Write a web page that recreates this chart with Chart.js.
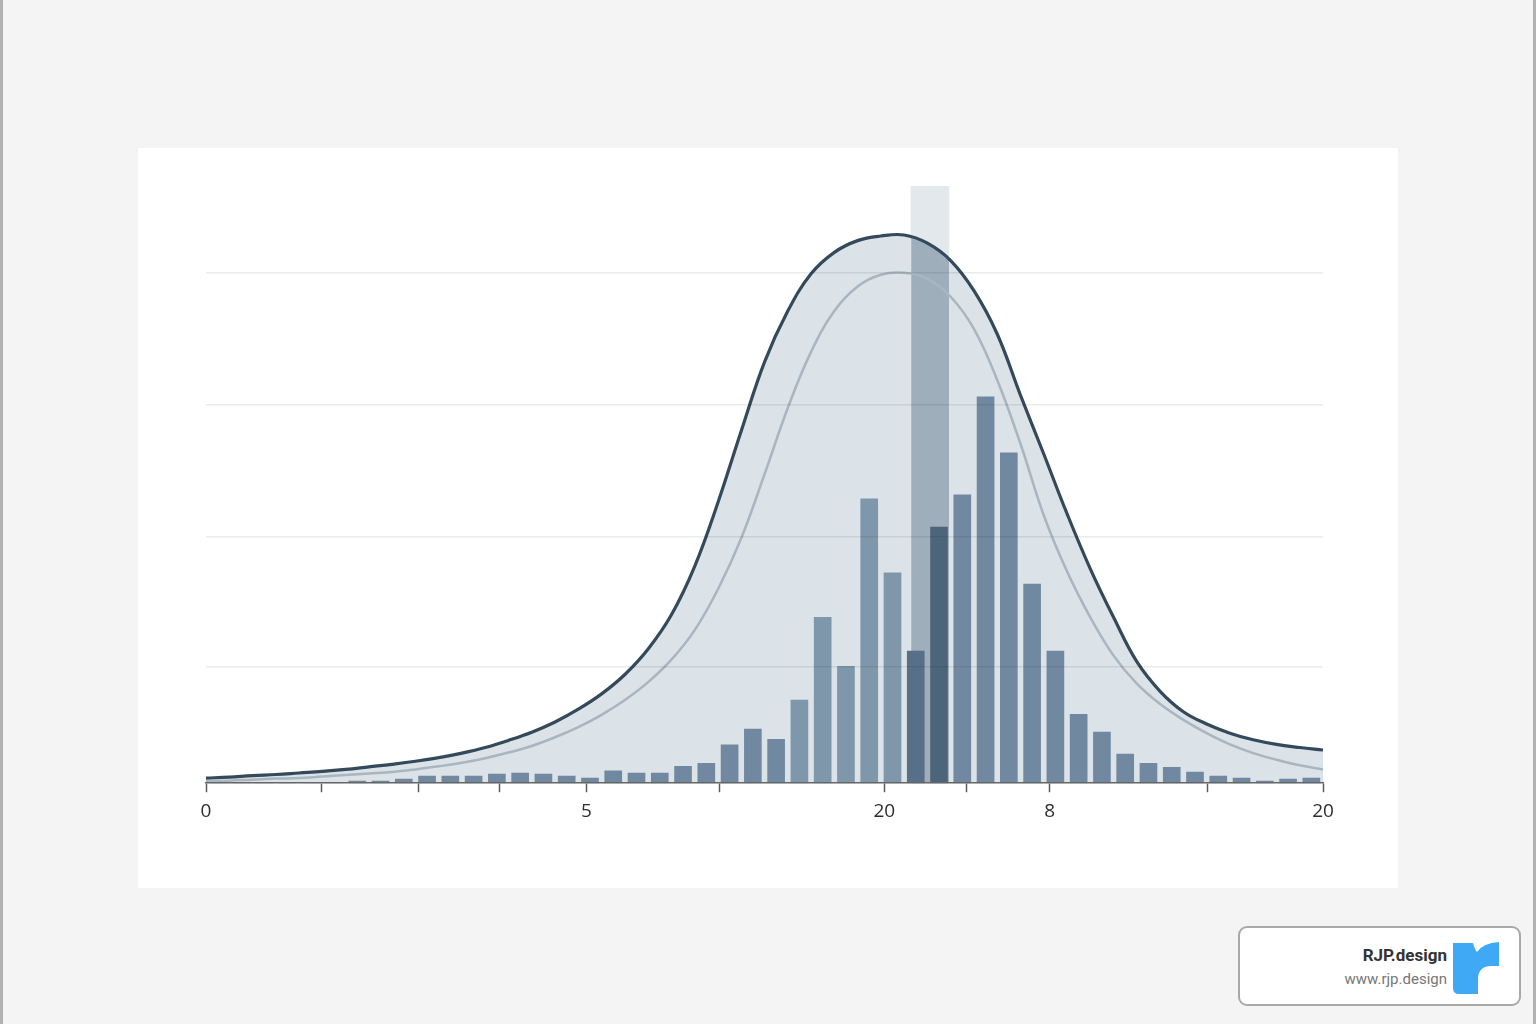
<!DOCTYPE html>
<html>
<head>
<meta charset="utf-8">
<title>Verteilung</title>
<script src="https://cdn.jsdelivr.net/npm/chart.js@4.4.1/dist/chart.umd.min.js"></script>
<style>
  html, body { margin: 0; padding: 0; }
  body { width: 1536px; height: 1024px; background: #f4f4f4; position: relative; overflow: hidden; }
  .edge { position: absolute; top: 0; width: 3px; height: 1024px; background: #b2b2b2; }
  #panel { position: absolute; left: 138px; top: 148px; width: 1260px; height: 740px; background: #fff; }
  #badge { position: absolute; left: 1238px; top: 926px; width: 279px; height: 76px; background: #fff;
           border: 2px solid #a9a9a9; border-radius: 9px; font-family: Roboto, "Noto Sans", sans-serif; }
  #badge .name { position: absolute; right: 72px; top: 17px; font-size: 17px; font-weight: bold; color: #333; }
  #badge .url { position: absolute; right: 72px; top: 42px; font-size: 15px; color: #777; }
  #badge svg { position: absolute; left: 213px; top: 14px; }
</style>
</head>
<body>
<div class="edge" style="left:0"></div>
<div class="edge" style="right:0"></div>
<div id="panel"><canvas id="grafico" width="1260" height="740"></canvas></div>
<div id="badge">
  <div class="name">RJP.design</div>
  <div class="url">www.rjp.design</div>
  <svg width="48" height="52" viewBox="0 0 48 52">
    <path d="M0 1 H20 Q22 8 24 10 Q30 1 46 0 V24 H38 Q26 24 25 36 V52 H6 Q0 52 0 46 Z" fill="#3fa9f5"/>
  </svg>
</div>

<script>
// Säulen: eine pro Klasse, 48 Klassen
const barValues = [0, 0, 0, 0, 0, 0, 0.4, 0.4, 0.8, 1.4, 1.4, 1.4,
                   1.8, 2.0, 1.8, 1.4, 1.0, 2.4, 2.0, 2.0, 3.3, 3.9, 7.5, 10.6,
                   8.6, 16.3, 32.5, 22.9, 55.7, 41.2, 25.9, 50.2, 56.5, 75.7, 64.7, 39.0,
                   25.9, 13.5, 10.0, 5.7, 3.9, 3.1, 2.2, 1.4, 1.0, 0.4, 0.8, 1.0];
const focusBars = [30, 31];

// Kurven, ein Wert pro Klassengrenze (0 ... 48)
const outerCurve = [1.0, 1.2, 1.5, 1.7, 2.0, 2.3, 2.7, 3.2, 3.7, 4.3, 5.0, 5.9,
                    7.0, 8.4, 10.0, 12.0, 14.5, 17.5, 21.3, 26.3, 33.0, 42.5, 55.0, 69.0,
                    82.5, 92.5, 99.8, 104.0, 106.3, 107.2, 107.4, 105.8, 102.4, 96.5, 88.0, 76.0,
                    64.5, 52.8, 42.0, 32.5, 23.8, 18.0, 14.0, 11.6, 9.8, 8.5, 7.6, 7.0, 6.5];
const innerCurve = [0.4, 0.5, 0.7, 0.9, 1.0, 1.3, 1.6, 1.9, 2.2, 2.7, 3.3, 4.0,
                    4.9, 6.0, 7.3, 9.0, 11.0, 13.4, 16.3, 19.8, 24.2, 30.0, 38.0, 48.0,
                    60.5, 73.5, 84.5, 92.5, 97.3, 99.6, 100.0, 98.8, 95.3, 89.0, 79.0, 66.5,
                    52.5, 41.5, 32.5, 25.0, 19.5, 15.5, 12.4, 9.8, 7.6, 5.9, 4.6, 3.5, 2.7];

// markierter Bereich
const bandCenter = 31.11;
const bandTop = 117;
const bandX = [30.3, 30.7, 31.1, 31.5, 31.93];
const bandY = [107.1, 106.4, 105.5, 104.3, 102.7];

// Achsen
const tickPositions = [0, 4.95, 9.15, 12.6, 16.35, 22.05, 29.15, 32.7, 36.25, 43.05, 48];
const tickLabels = ["0", "", "", "", "5", "", "20", "", "8", "", "20"];
const gridValues = [22.9, 48.2, 74.1, 100];

const xy = (xs, ys) => xs.map((x, i) => ({ x: x, y: ys[i] }));
const curvePoints = ys => ys.map((y, i) => ({ x: i, y: y }));

function barColor(c) {
    const i = c.dataIndex;
    if (i === focusBars[0]) return '#587087';
    if (i === focusBars[1]) return '#4d657b';
    if (i >= 25 && i < focusBars[0]) return '#7f97ab';
    return '#7189a0';
}

const ctx = document.getElementById('grafico').getContext('2d');
new Chart(ctx, {
    type: 'bar',
    data: {
        datasets: [
            {
                type: 'line', order: 0,
                data: curvePoints(outerCurve),
                borderColor: '#34495a', borderWidth: 3.2,
                pointRadius: 0, tension: 0.4, fill: false
            },
            {
                type: 'line', order: 1,
                data: curvePoints(innerCurve),
                borderColor: '#a9b5bf', borderWidth: 2.5,
                pointRadius: 0, tension: 0.4, fill: false
            },
            {
                order: 2,
                data: barValues.map((v, i) => ({ x: i + 0.5, y: v })),
                backgroundColor: barColor,
                barThickness: 17,
                grouped: false
            },
            {
                type: 'line', order: 3,
                data: xy(bandX, bandY),
                borderWidth: 0, pointRadius: 0, tension: 0.3,
                backgroundColor: '#9eaebb', fill: 'origin'
            },
            {
                order: 4,
                data: [{ x: bandCenter, y: [0, bandTop] }],
                backgroundColor: '#e3e8ec',
                barThickness: 38,
                grouped: false
            },
            {
                type: 'line', order: 5,
                data: curvePoints(outerCurve),
                borderWidth: 0, pointRadius: 0, tension: 0.4,
                backgroundColor: '#dbe2e8', fill: 'origin'
            }
        ]
    },
    options: {
        responsive: false,
        animation: false,
        layout: { padding: { left: 68, right: 75, top: 38, bottom: 57 } },
        plugins: { legend: { display: false }, tooltip: { enabled: false } },
        scales: {
            x: {
                type: 'linear', min: 0, max: 48, offset: false,
                afterBuildTicks: axis => { axis.ticks = tickPositions.map(v => ({ value: v })); },
                grid: { offset: false, drawOnChartArea: false, drawTicks: true, tickLength: 9,
                        tickColor: '#5c5c5c', tickWidth: 1.5 },
                border: { display: true, color: '#666', width: 1.5, z: 1 },
                ticks: {
                    autoSkip: false, maxRotation: 0, padding: 8,
                    color: '#2e2e2e', font: { family: 'Open Sans', size: 19 },
                    callback: (value, index) => tickLabels[index]
                }
            },
            y: {
                min: 0, max: bandTop,
                afterBuildTicks: axis => { axis.ticks = gridValues.map(v => ({ value: v })); },
                grid: { drawTicks: false, color: 'rgba(0,0,0,0.08)', lineWidth: 1.5, z: 1 },
                border: { display: false },
                ticks: { display: false }
            }
        }
    }
});
</script>
</body>
</html>
